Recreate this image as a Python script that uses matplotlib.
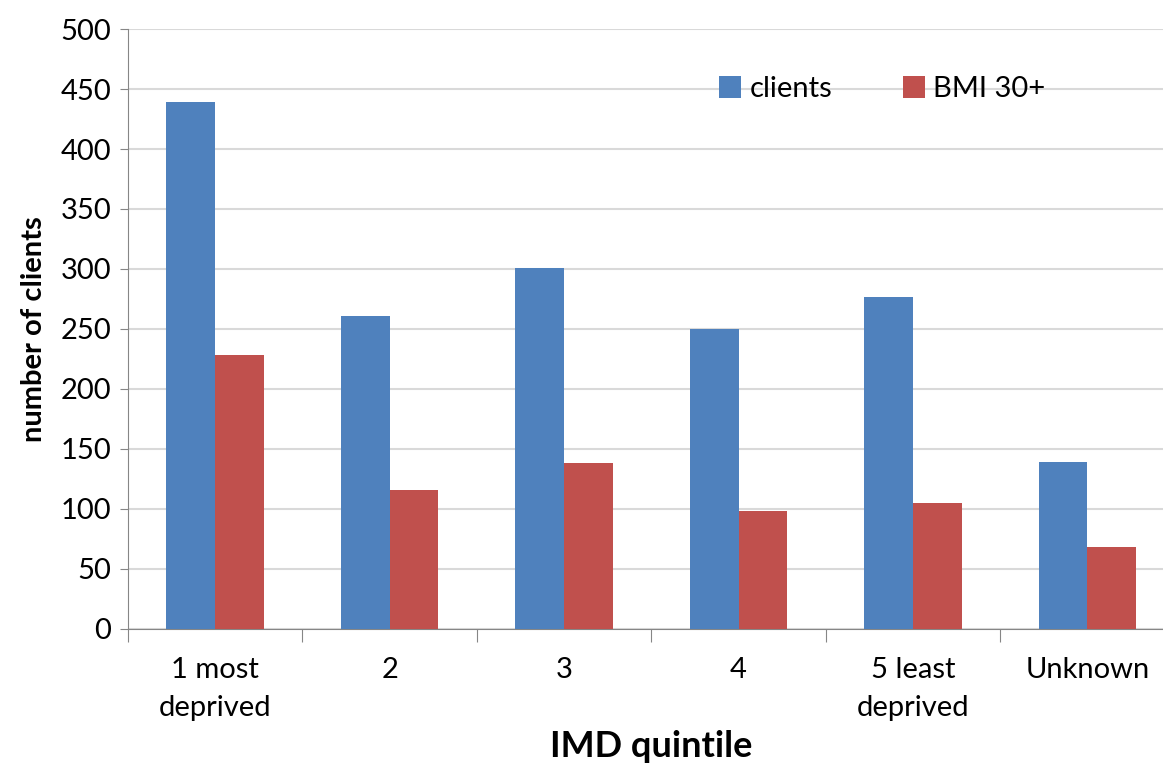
#!/usr/bin/env python3
""" Clients and BMI 30+ counts by IMD quintile, grouped bar chart. """

import numpy as np
import matplotlib.pyplot as plt

categories = ["1 most\ndeprived", "2", "3", "4", "5 least\ndeprived", "Unknown"]
clients = [439, 261, 301, 250, 277, 139]
bmi30 = [228, 116, 138, 98, 105, 68]
yticks = [0, 50, 100, 150, 200, 250, 300, 350, 400, 450, 500]

plt.rcParams['font.family'] = ['Lato', 'DejaVu Sans']

fig = plt.figure(figsize=(11.63, 7.65), dpi=100)
ax = fig.add_axes([0.110, 0.178, 0.900, 0.784])

x = np.arange(len(categories)) + 0.5
w = 0.28
ax.bar(x - w / 2, clients, w, color="#4F81BD", label="clients", zorder=3)
ax.bar(x + w / 2, bmi30, w, color="#C0504D", label="BMI 30+", zorder=3)

ax.set_xlim(0, len(categories))
ax.set_ylim(0, 500)
ax.set_yticks(yticks)
ax.tick_params(axis="y", labelsize=21, length=6, color="#868686", pad=6)
ax.yaxis.grid(True, color="#D9D9D9", linewidth=1.5, zorder=0)

# category boundary ticks, labels centred between them
ax.set_xticks(np.arange(len(categories) + 1))
ax.set_xticklabels([])
ax.set_xticks(x, minor=True)
ax.set_xticklabels(categories, minor=True, fontsize=21, linespacing=1.6)
ax.tick_params(axis="x", which="major", length=9, color="#868686")
ax.tick_params(axis="x", which="minor", length=0, pad=20)

for s in ["top", "right"]:
    ax.spines[s].set_visible(False)
ax.spines["left"].set_color("#868686")
ax.spines["bottom"].set_color("#868686")

ax.set_ylabel("number of clients", fontsize=21, fontweight="bold", labelpad=10)
ax.set_xlabel("IMD quintile", fontsize=26, fontweight="bold", labelpad=6)

ax.legend(loc="upper left", bbox_to_anchor=(0.54, 0.965), ncol=2, frameon=False,
          fontsize=21, handlelength=0.75, handleheight=0.75, handletextpad=0.3,
          columnspacing=2.4)

fig.savefig("out.png", dpi=100)
